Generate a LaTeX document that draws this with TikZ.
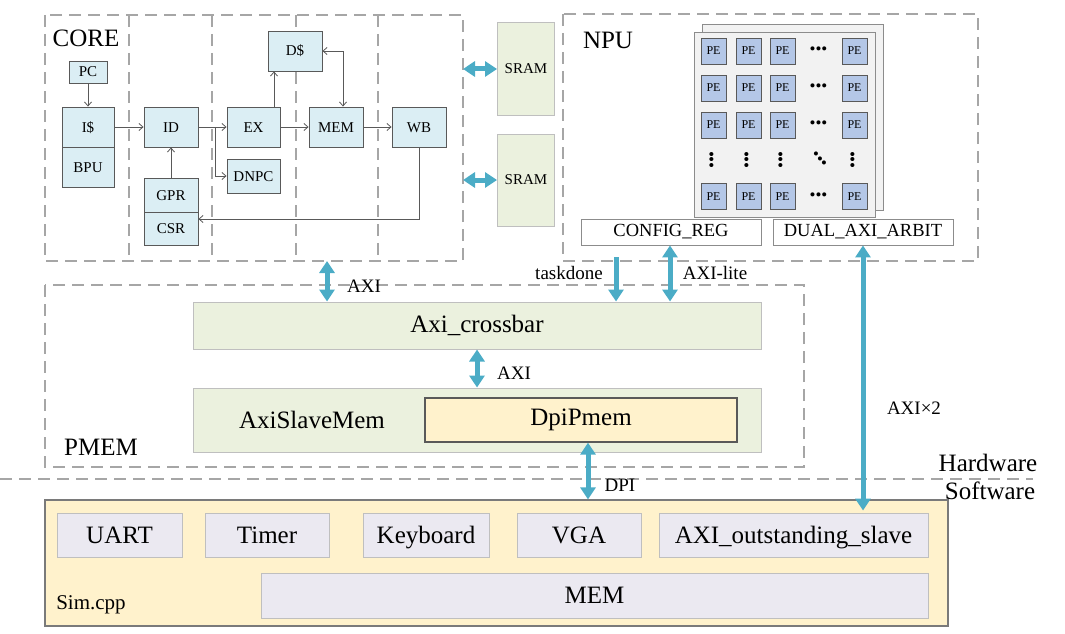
\documentclass[tikz,border=0pt]{standalone}
\usepackage{fontspec}
\setmainfont{Liberation Serif}
\usetikzlibrary{arrows.meta}

\definecolor{coreblue}{HTML}{DBEEF4}
\definecolor{blkline}{HTML}{595959}
\definecolor{srgreen}{HTML}{EBF1DE}
\definecolor{lightline}{HTML}{BFBFBF}
\definecolor{pefill}{HTML}{B4C7E7}
\definecolor{panel}{HTML}{F2F2F2}
\definecolor{panelline}{HTML}{8C8C8C}
\definecolor{axiblue}{HTML}{4BACC6}
\definecolor{dashgray}{HTML}{A6A6A6}
\definecolor{simyellow}{HTML}{FFF2CC}
\definecolor{simbox}{HTML}{EBE9F1}

\begin{document}
\begin{tikzpicture}[x=1pt, y=-1pt, >={Straight Barb[length=4pt,width=7pt]},
  every node/.style={inner sep=0pt},
  bt/.tip={Triangle[width=15pt,length=12pt]},
  region/.style={draw=dashgray, line width=2.6pt, dash pattern=on 12pt off 7pt},
  stage/.style={draw=dashgray, line width=1.6pt, dash pattern=on 12pt off 7pt},
  blk/.style={draw=blkline, fill=coreblue, line width=0.9pt, text height=11pt, text depth=1pt, font=\fontsize{15}{15}\selectfont},
  pe/.style={draw=blkline, fill=pefill, line width=0.8pt, minimum width=25, minimum height=26, font=\fontsize{12}{12}\selectfont},
  dots/.style={font=\fontsize{17}{17}\selectfont, text height=7pt, text depth=0pt},
  reg/.style={draw=panelline, fill=white, line width=0.9pt, minimum width=180, minimum height=26, font=\fontsize{18.5}{18.5}\selectfont},
  green/.style={draw=lightline, fill=srgreen, line width=1pt},
  dev/.style={draw=lightline, fill=simbox, line width=1pt, minimum height=44, text height=18pt, text depth=1.5pt, font=\fontsize{25}{25}\selectfont},
  big/.style={font=\fontsize{25}{25}\selectfont},
  mid/.style={font=\fontsize{19}{19}\selectfont},
  bus/.style={draw=axiblue, line width=5pt, bt-bt},
  busdown/.style={draw=axiblue, line width=5pt, -bt}]
\useasboundingbox (0,0) rectangle (1065,634);

% dashed regions
\draw[region] (45,15) rectangle (463,261);
\draw[region] (563,14) rectangle (978,261);
\draw[region] (45,285) rectangle (804,467);
\draw[region] (0,479) -- (1033,479);
\foreach \x in {129,212,296,378}
  \draw[stage] (\x,15) -- (\x,261);

\coordinate (coreE) at (463,0);
\coordinate (coreS) at (0,261);

\node[big] (coreT) at (86,38) {CORE};
\node[big] (npuT) at (608,40) {NPU};
\node[big] (pmemT) at (101,447) {PMEM};

% core pipeline
\node[blk, minimum width=38, minimum height=22] (PC) at (88,72) {PC};
\node[blk, minimum width=52, minimum height=40] (IC) at (88,127) {I\$};
\node[blk, minimum width=52, minimum height=40] (BPU) at (88,167) {BPU};
\node[blk, minimum width=54, minimum height=40] (ID) at (171,127) {ID};
\node[blk, minimum width=53, minimum height=40] (EX) at (253.5,127) {EX};
\node[blk, minimum width=54, minimum height=40] (MEM) at (336,127) {MEM};
\node[blk, minimum width=54, minimum height=40] (WB) at (419,127) {WB};
\node[blk, minimum width=54, minimum height=40] (DC) at (295,51) {D\$};
\node[blk, minimum width=53, minimum height=34] (DNPC) at (253.5,176) {DNPC};
\node[blk, minimum width=54, minimum height=34] (GPR) at (171,195) {GPR};
\node[blk, minimum width=54, minimum height=33] (CSR) at (171,228.5) {CSR};

\begin{scope}[blkline, line width=0.8pt]
\coordinate (brk) at (215,0);
\coordinate (exd) at (274,0);
\coordinate (memd) at (343,0);
\coordinate (wbr) at (0,219);
\draw[->] (PC.south) -- (IC.north);
\draw[->] (IC.east) -- (ID.west);
\draw[->] (ID.east) -- (EX.west);
\draw[->] (ID.east -| brk) |- (DNPC.west);
\draw[->] (EX.north -| exd) -- (DC.south -| exd);
\draw[<->] (DC.east) -| (MEM.north -| memd);
\draw[->] (EX.east) -- (MEM.west);
\draw[->] (MEM.east) -- (WB.west);
\draw[->] (GPR.north) -- (ID.south);
\draw[->] (WB.south) |- (CSR.east |- wbr);
\end{scope}

% sram
\node[green, minimum width=57, minimum height=92, font=\fontsize{15}{15}\selectfont] (SR1) at (526,69) {SRAM};
\node[green, minimum width=57, minimum height=92, font=\fontsize{15}{15}\selectfont] (SR2) at (526,180) {SRAM};
\draw[bus] (coreE |- SR1.west) -- (SR1.west);
\draw[bus] (coreE |- SR2.west) -- (SR2.west);

% npu array
\draw[panelline, fill=panel, line width=0.9pt] (702,24) rectangle (883,210);
\draw[panelline, fill=panel, line width=0.9pt] (694,32) rectangle (875,217);
\foreach \r/\y in {1/51,2/88,3/125,5/196.5} {
  \foreach \c/\x in {1/713.5,2/748.5,3/782.5,5/854.5}
    \node[pe] (pe\r\c) at (\x,\y) {PE};
  \node[dots] (hd\r) at (818.5,\y) {•••};
}
\foreach \c/\x in {1/713.5,2/748.5,3/782.5,5/854.5}
  \node[dots, rotate=90] (vd\c) at (\x,160) {•••};
\node[dots, rotate=-48] (dd) at (818.5,160) {•••};

\node[reg] (CFG) at (671,232) {CONFIG\_REG};
\node[reg] (DUAL) at (863,232) {DUAL\_AXI\_ARBIT};

% pmem
\node[green, minimum width=568, minimum height=47, big] (XB) at (477,325.5) {Axi\_crossbar};
\node[green, minimum width=568, minimum height=64] (ASM) at (477,420) {};
\node[big] (asmT) at (312,420) {AxiSlaveMem};
\node[draw=blkline, fill=simyellow, line width=1.3pt, minimum width=312, minimum height=44, big] (DPM) at (581,420) {DpiPmem};

\coordinate (ax1) at (327,0);
\coordinate (td) at (616,257);
\coordinate (dpi) at (588,0);
\draw[bus] (ax1 |- coreS) -- (ax1 |- XB.north);
\draw[busdown] (td) -- (td |- XB.north);
\draw[bus] (CFG.south -| 670,0) -- (XB.north -| 670,0);
\draw[bus] (XB.south) -- (ASM.north);

\node[mid] (lax1) at (364,286) {AXI};
\node[mid] (ltd) at (569,273) {taskdone};
\node[mid] (llite) at (715,273) {AXI-lite};
\node[mid] (lax2) at (514,373) {AXI};

% software side
\node[draw=blkline!80, fill=simyellow, line width=1.2pt, minimum width=903, minimum height=126] (SIM) at (496.5,563) {};
\node[font=\fontsize{21}{21}\selectfont] (simT) at (91,605) {Sim.cpp};
\node[dev, minimum width=125] (UART) at (119.5,535) {UART};
\node[dev, minimum width=124] (TMR) at (267,535) {Timer};
\node[dev, minimum width=126] (KBD) at (426,535) {Keyboard};
\node[dev, minimum width=124] (VGA) at (579,535) {VGA};
\node[dev, minimum width=269] (SLV) at (793.5,535) {AXI\_outstanding\_slave};
\node[dev, minimum width=667, minimum height=45] (SMEM) at (594.5,595.5) {MEM};

\draw[bus] (DPM.south -| dpi) -- (SIM.north -| dpi);
\draw[bus, shorten >=2pt] (DUAL.south) -- (DUAL.south |- SLV.north);

\node[mid] (ldpi) at (620,485) {DPI};
\node[mid] (lax3) at (914,408) {AXI×2};
\node[big] (hwT) at (988,463) {Hardware};
\node[big] (swT) at (990,491) {Software};

\end{tikzpicture}
\end{document}
